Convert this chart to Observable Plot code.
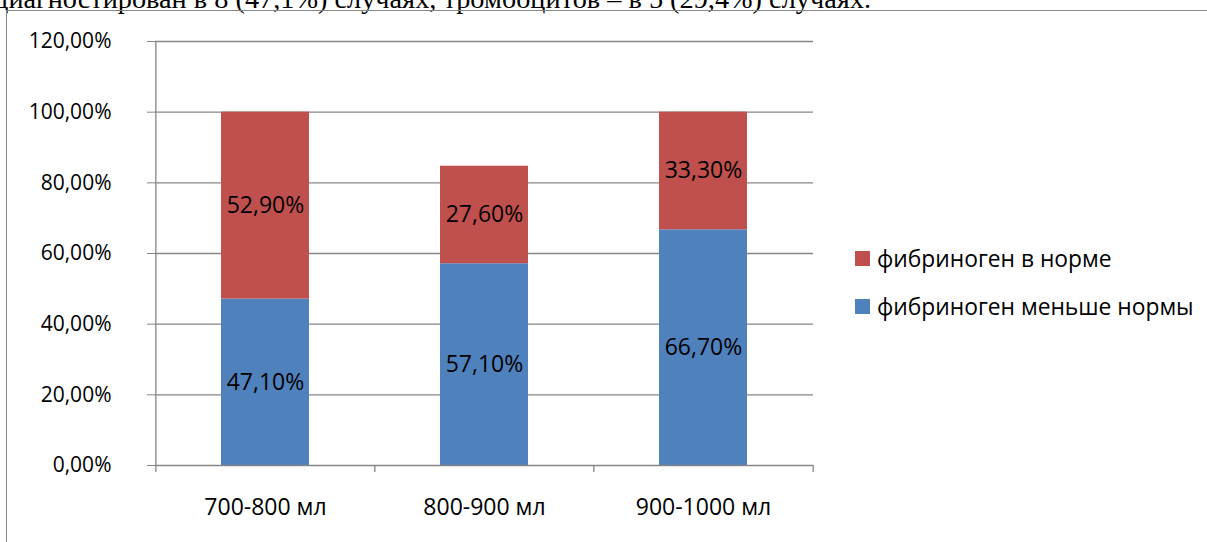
<!DOCTYPE html>
<html>
<head>
<meta charset="utf-8">
<script src="https://cdn.jsdelivr.net/npm/d3@7"></script>
<script src="https://cdn.jsdelivr.net/npm/@observablehq/plot@0.6"></script>
<style>
  body { margin: 0; background: #fff; }
  #page { position: relative; width: 1207px; height: 542px; overflow: hidden; background: #fff; }
  #lead { position: absolute; left: -6px; top: -17px; font: 28.3px "Liberation Serif", "Times New Roman", serif; white-space: nowrap; color: #000; }
  #box { position: absolute; left: 6px; top: 10px; right: -4px; bottom: -4px; border-top: 1px solid #878787; border-left: 1px solid #878787; }
  #chart svg { position: absolute; left: 0; top: 0; }
  #legend { position: absolute; left: 855px; top: 0; font: 22.8px "Open Sans", sans-serif; color: #000; }
  #legend .item { position: absolute; left: 0; white-space: nowrap; display: flex; align-items: center; height: 20px; }
  #legend .sw { width: 15px; height: 15px; margin-right: 7px; flex: none; }
</style>
</head>
<body>
<div id="page">
  <div id="lead">диагностирован в 8 (47,1%) случаях, тромбоцитов – в 5 (29,4%) случаях.</div>
  <div id="box"></div>
  <div id="chart"></div>
  <div id="legend"></div>
</div>
<script>
// Blood loss groups and the share of patients in each fibrinogen group
const volumes = ["700-800 мл", "800-900 мл", "900-1000 мл"];
const belowNorm = [47.1, 57.1, 66.7];
const withinNorm = [52.9, 27.6, 33.3];
const seriesNames = ["фибриноген меньше нормы", "фибриноген в норме"];
const seriesColors = ["#4F81BD", "#C0504D"];
const yTicks = [0, 20, 40, 60, 80, 100, 120];

const gray = "#868686";
const pct = v => v.toFixed(2).replace(".", ",") + "%";

const rows = volumes.flatMap((v, i) => [
  {volume: v, series: seriesNames[0], value: belowNorm[i]},
  {volume: v, series: seriesNames[1], value: withinNorm[i]}
]);

const W = 1207, H = 542, mL = 155, mR = 394, mT = 41, mB = 77;
const step = (W - mL - mR) / volumes.length;

const chart = Plot.plot({
  width: W,
  height: H,
  marginLeft: mL,
  marginRight: mR,
  marginTop: mT,
  marginBottom: mB,
  style: {fontFamily: "'Open Sans', sans-serif", fontSize: "23px", color: "#000", background: "transparent", overflow: "visible"},
  x: {domain: volumes, paddingInner: 0.6, paddingOuter: 0.3, label: null},
  y: {domain: [0, 120], label: null},
  color: {domain: seriesNames, range: seriesColors},
  marks: [
    Plot.ruleY(yTicks.slice(1), {stroke: gray, strokeWidth: 1.3}),
    Plot.barY(rows, {x: "volume", y: "value", fill: "series"}),
    Plot.text(rows, Plot.stackY({x: "volume", y: "value", z: "series", text: d => pct(d.value), fill: "#000", fontSize: 23})),
    Plot.ruleY([0], {stroke: gray, strokeWidth: 1.3}),
    // y axis line and category boundary ticks
    Plot.ruleX(volumes.slice(0, 1), {x: d => d, y1: 0, y2: 120, dx: -step / 2, insetTop: 7, stroke: gray, strokeWidth: 1.3}),
    Plot.ruleX(volumes.slice(1), {x: d => d, y1: 0, y2: 0, dx: -step / 2, insetTop: 7, stroke: gray, strokeWidth: 1.3}),
    Plot.ruleX(volumes.slice(-1), {x: d => d, y1: 0, y2: 0, dx: step / 2, insetTop: 7, stroke: gray, strokeWidth: 1.3}),
    Plot.axisY({ticks: yTicks, tickSize: 8, tickPadding: 36, tickFormat: pct, stroke: gray, fill: "#000", fontSize: 21}),
    Plot.axisX({tickSize: 0, tickPadding: 33, fill: "#000", fontSize: 23})
  ]
});
document.getElementById("chart").append(chart);

// Legend, listed top series first
const legend = document.getElementById("legend");
[[1, 258], [0, 306]].forEach(([k, cy]) => {
  const item = document.createElement("div");
  item.className = "item";
  item.style.top = (cy - 10) + "px";
  const sw = document.createElement("span");
  sw.className = "sw";
  sw.style.background = seriesColors[k];
  const label = document.createElement("span");
  label.textContent = seriesNames[k];
  item.append(sw, label);
  legend.append(item);
});
</script>
</body>
</html>
